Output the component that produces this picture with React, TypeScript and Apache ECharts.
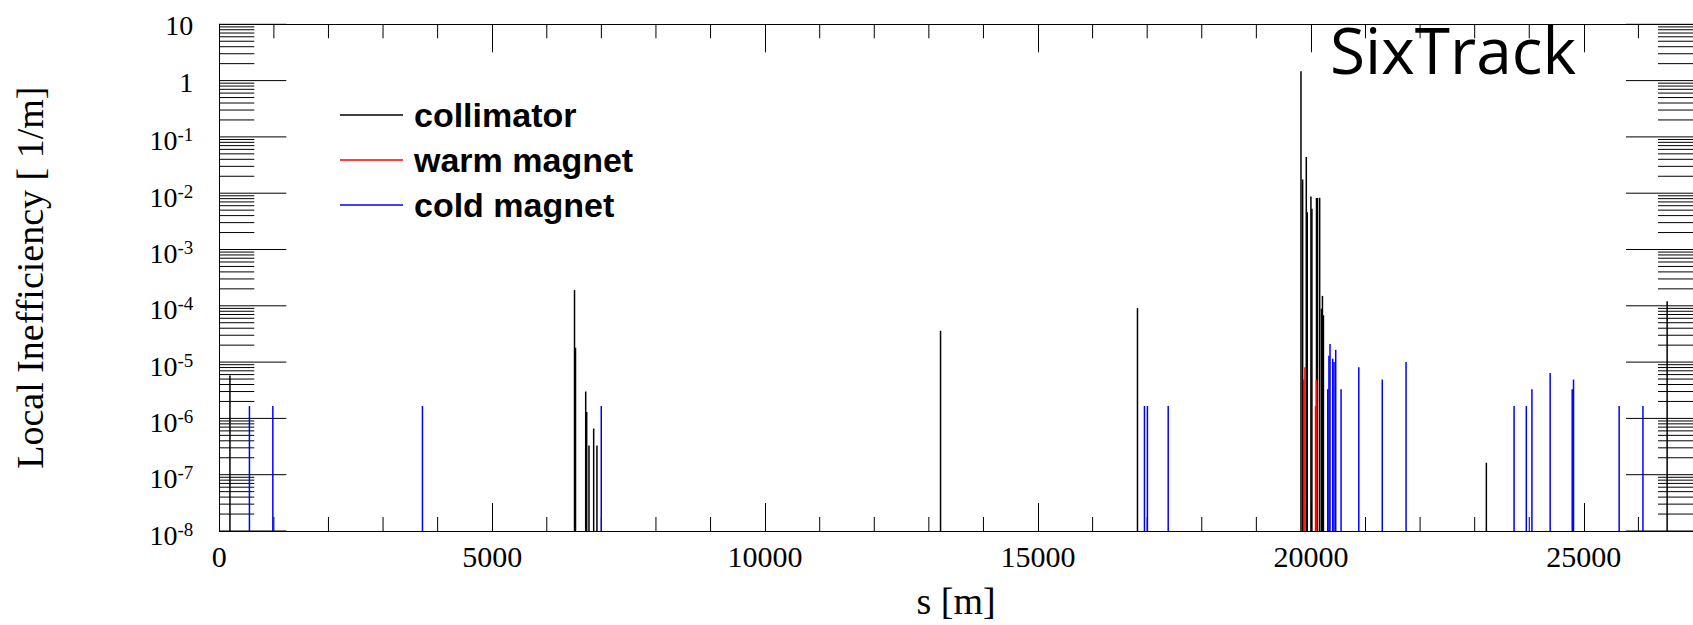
import React, { useEffect, useRef } from 'react';
import * as echarts from 'echarts';

// s [m], local inefficiency [1/m]
const collimator: [number, number][] = [
  [195, 5.8e-6],
  [6508, 1.9e-4],
  [6526, 1.8e-5],
  [6713, 3.0e-6],
  [6731, 1.3e-6],
  [6773, 3.3e-7],
  [6859, 6.6e-7],
  [6919, 3.3e-7],
  [13214, 3.6e-5],
  [16822, 9.1e-5],
  [19818, 1.47],
  [19848, 0.0176],
  [19915, 0.044],
  [19933, 0.0046],
  [20000, 0.0087],
  [20018, 0.0053],
  [20102, 0.0082],
  [20120, 0.0082],
  [20160, 0.0083],
  [20193, 8.9e-5],
  [20211, 1.5e-4],
  [20229, 6.8e-5],
  [23214, 1.63e-7],
  [26526, 1.2e-4],
];

const warmMagnet: [number, number][] = [
  [19866, 4.9e-6],
  [19890, 8.1e-6],
  [20084, 1.66e-6],
  [20100, 4.9e-6],
];

const coldMagnet: [number, number][] = [
  [552, 1.66e-6],
  [981, 1.66e-6],
  [3722, 1.66e-6],
  [6998, 1.66e-6],
  [16950, 1.66e-6],
  [17004, 1.66e-6],
  [17385, 1.66e-6],
  [20308, 3.3e-6],
  [20330, 1.3e-5],
  [20350, 2.1e-5],
  [20399, 1.15e-5],
  [20423, 1.0e-5],
  [20454, 1.65e-5],
  [20552, 3.3e-6],
  [20877, 8.1e-6],
  [21307, 4.9e-6],
  [21743, 1.0e-5],
  [23722, 1.66e-6],
  [23946, 1.66e-6],
  [24049, 3.3e-6],
  [24383, 6.4e-6],
  [24787, 3.3e-6],
  [24811, 4.9e-6],
  [25647, 1.66e-6],
  [26083, 1.66e-6],
];

const X_MIN = 0;
const X_MAX = 27000;
const X_INTERVAL = 5000;
const Y_MIN = 1e-8;
const Y_MAX = 10;

const xMinorTicks = [
  1000, 2000, 3000, 4000, 6000, 7000, 8000, 9000, 11000, 12000, 13000, 14000,
  16000, 17000, 18000, 19000, 21000, 22000, 23000, 24000, 26000,
];
const yMajorTicks = [1e-8, 1e-7, 1e-6, 1e-5, 1e-4, 1e-3, 1e-2, 1e-1, 1, 10];
const yMinorMantissas = [2, 3, 4, 5, 6, 7, 8, 9];
const yDecades = [-8, -7, -6, -5, -4, -3, -2, -1, 0];

const Y_MAJOR_LEN = 67;
const Y_MINOR_LEN = 35;
const X_MINOR_LEN = 14;

const SERIF = '"Liberation Serif", "Times New Roman", serif';
const SANS = '"Liberation Sans", Arial, sans-serif';

export default function App() {
  const ref = useRef<HTMLDivElement>(null);

  useEffect(() => {
    document.body.style.margin = '0';
    const chart = echarts.init(ref.current!, null, { renderer: 'svg' });

    const yTicks: number[][] = yMajorTicks.map((v) => [X_MIN, v, Y_MAJOR_LEN]);
    yDecades.forEach((d) => {
      yMinorMantissas.forEach((m) => {
        yTicks.push([X_MIN, m * Math.pow(10, d), Y_MINOR_LEN]);
      });
    });

    const stem = (color: string) => (params: any, api: any) => {
      const s = api.value(0);
      const v = api.value(1);
      const p0 = api.coord([s, Y_MIN]);
      const p1 = api.coord([s, v]);
      return {
        type: 'line',
        shape: { x1: p0[0], y1: p0[1], x2: p1[0], y2: p1[1] },
        style: { stroke: color, lineWidth: 1.5 },
      };
    };

    const yTickRender = (params: any, api: any) => {
      const cs = params.coordSys;
      const p = api.coord([X_MIN, api.value(1)]);
      const len = api.value(2);
      const right = cs.x + cs.width;
      return {
        type: 'group',
        children: [
          { type: 'line', shape: { x1: cs.x, y1: p[1], x2: cs.x + len, y2: p[1] }, style: { stroke: '#000', lineWidth: 1 } },
          { type: 'line', shape: { x1: right - len, y1: p[1], x2: right, y2: p[1] }, style: { stroke: '#000', lineWidth: 1 } },
        ],
      };
    };

    const xTickRender = (params: any, api: any) => {
      const cs = params.coordSys;
      const p = api.coord([api.value(0), Y_MIN]);
      const bottom = cs.y + cs.height;
      return {
        type: 'group',
        children: [
          { type: 'line', shape: { x1: p[0], y1: bottom, x2: p[0], y2: bottom - X_MINOR_LEN }, style: { stroke: '#000', lineWidth: 1 } },
          { type: 'line', shape: { x1: p[0], y1: cs.y, x2: p[0], y2: cs.y + X_MINOR_LEN }, style: { stroke: '#000', lineWidth: 1 } },
        ],
      };
    };

    const yLabel = (v: number) => {
      const e = Math.round(Math.log10(v));
      if (e === 1) return '{p|10}';
      if (e === 0) return '{p|1}';
      return `{b|10}{s|${e}}`;
    };

    const axisLine = { show: true, lineStyle: { color: '#000', width: 1 } };

    chart.setOption({
      animation: false,
      backgroundColor: '#fff',
      grid: { left: 219.3, top: 24.3, width: 1487, height: 512.4, containLabel: false },
      legend: {
        data: [{ name: 'collimator' }, { name: 'warm magnet' }, { name: 'cold magnet' }],
        orient: 'vertical',
        left: 335,
        top: 93,
        itemWidth: 63,
        itemHeight: 1.5,
        itemGap: 11,
        icon: 'rect',
        selectedMode: false,
        textStyle: {
          fontFamily: SANS,
          fontWeight: 'bold',
          fontSize: 34,
          color: '#000',
          padding: [0, 0, 0, 6],
        },
      },
      xAxis: [
        {
          type: 'value',
          min: X_MIN,
          max: X_MAX,
          interval: X_INTERVAL,
          position: 'bottom',
          name: 's [m]',
          nameLocation: 'middle',
          nameGap: 51,
          nameTextStyle: { fontFamily: SERIF, fontSize: 38, color: '#000' },
          axisLine,
          axisTick: { show: true, inside: true, length: 28, lineStyle: { color: '#000', width: 1 } },
          splitLine: { show: false },
          axisLabel: {
            fontFamily: SERIF,
            fontSize: 30,
            color: '#000',
            margin: 10,
            showMaxLabel: false,
            formatter: (v: number) => (v % X_INTERVAL === 0 ? String(v) : ''),
          },
        },
        {
          type: 'value',
          min: X_MIN,
          max: X_MAX,
          interval: X_INTERVAL,
          position: 'top',
          axisLine,
          axisTick: { show: true, inside: true, length: 28, lineStyle: { color: '#000', width: 1 } },
          splitLine: { show: false },
          axisLabel: { show: false },
        },
      ],
      yAxis: [
        {
          type: 'log',
          logBase: 10,
          min: Y_MIN,
          max: Y_MAX,
          splitNumber: 9,
          position: 'left',
          name: 'Local Inefficiency [ 1/m]',
          nameLocation: 'middle',
          nameGap: 170,
          nameTextStyle: { fontFamily: SERIF, fontSize: 38, color: '#000' },
          axisLine,
          axisTick: { show: false },
          splitLine: { show: false },
          axisLabel: {
            margin: 26,
            color: '#000',
            formatter: yLabel,
            padding: [8, 0, 0, 0],
            rich: {
              p: { fontFamily: SERIF, fontSize: 28, lineHeight: 28, color: '#000', padding: [0, 0, 5, 0] },
              b: { fontFamily: SERIF, fontSize: 28, lineHeight: 28, color: '#000' },
              s: { fontFamily: SERIF, fontSize: 19, lineHeight: 19, color: '#000', padding: [0, 0, 12, 0] },
            },
          },
        },
        {
          type: 'log',
          logBase: 10,
          min: Y_MIN,
          max: Y_MAX,
          splitNumber: 9,
          position: 'right',
          axisLine,
          axisTick: { show: false },
          splitLine: { show: false },
          axisLabel: { show: false },
        },
      ],
      graphic: [
        {
          type: 'text',
          left: 1330,
          top: 17,
          z: 100,
          style: { text: 'SixTrack', fontFamily: '"Open Sans", "Noto Sans", sans-serif', fontSize: 64, fill: '#000' },
        },
      ],
      series: [
        {
          type: 'custom',
          name: 'yTicks',
          silent: true,
          renderItem: yTickRender,
          data: yTicks,
          encode: { x: 0, y: 1 },
          z: 1,
        },
        {
          type: 'custom',
          name: 'xMinorTicks',
          silent: true,
          renderItem: xTickRender,
          data: xMinorTicks.map((s) => [s, Y_MAX]),
          encode: { x: 0, y: 1 },
          z: 1,
        },
        {
          type: 'custom',
          name: 'collimator',
          renderItem: stem('#000000'),
          itemStyle: { color: '#000000' },
          data: collimator,
          encode: { x: 0, y: 1 },
          z: 2,
        },
        {
          type: 'custom',
          name: 'warm magnet',
          renderItem: stem('#ff0000'),
          itemStyle: { color: '#ff0000' },
          data: warmMagnet,
          encode: { x: 0, y: 1 },
          z: 3,
        },
        {
          type: 'custom',
          name: 'cold magnet',
          renderItem: stem('#0000ff'),
          itemStyle: { color: '#0000ff' },
          data: coldMagnet,
          encode: { x: 0, y: 1 },
          z: 4,
        },
      ],
    });

    return () => chart.dispose();
  }, []);

  return <div ref={ref} style={{ width: 1693, height: 625 }} />;
}
